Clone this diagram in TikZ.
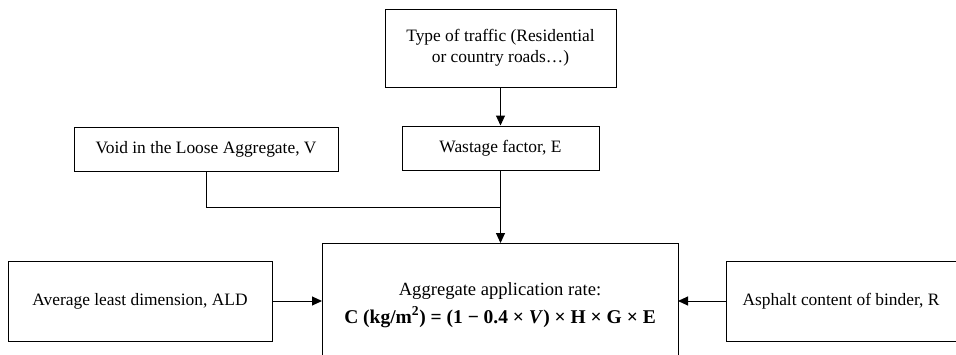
\documentclass[tikz,border=0pt]{standalone}
\usepackage{fontspec}
\setmainfont{Liberation Serif}
\usetikzlibrary{arrows.meta}
\begin{document}
\begin{tikzpicture}[x=1pt,y=-1pt,
  box/.style={draw, line width=1pt, inner sep=0pt, align=center, font=\fontsize{17.4}{21}\selectfont},
  arr/.style={line width=1pt, -{Triangle[length=10pt,width=9pt]}},
  ln/.style={line width=1pt}]
\useasboundingbox (0,0) rectangle (956,354);
\node[box, minimum width=231pt, minimum height=78pt] (type) at (500.5,48) {Type of traffic (Residential\\or country roads…)};
\node[box, minimum width=197pt, minimum height=44pt] (waste) at (500.5,148) {Wastage factor, E};
\node[box, minimum width=264pt, minimum height=44pt] (void) at (206,149) {Void in the Loose Aggregate, V};
\node[box, minimum width=264pt, minimum height=80pt] (ald) at (140,301) {Average least dimension, ALD};
\node[box, minimum width=230pt, minimum height=80pt] (asph) at (841,301) {Asphalt content of binder, R};
\draw[line width=1pt] (322,243) rectangle (678,380);
\coordinate (mtop) at (500.5,243);
\coordinate (mleft) at (322,301);
\coordinate (mright) at (678,301);
\node[align=center] (rate) at (500,305) {\fontsize{18.6}{22}\selectfont Aggregate application rate:\\[6pt]\fontsize{19.5}{22}\selectfont\textbf{C (kg/m\textsuperscript{2}) = (1 − 0.4 × \textit{V}) × H × G × E}};
\coordinate (join) at (206,207);
\coordinate (joinR) at (500.5,207);
\draw[arr] (type) -- (waste);
\draw[arr] (waste) -- (mtop);
\draw[ln] (void.south) -- (join) -- (joinR);
\draw[arr] (ald) -- (mleft);
\draw[arr] (asph) -- (mright);
\end{tikzpicture}
\end{document}
